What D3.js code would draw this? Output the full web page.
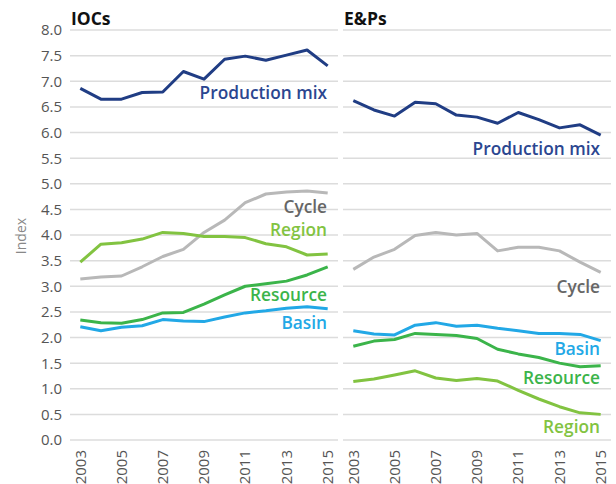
<!DOCTYPE html>
<html>
<head>
<meta charset="utf-8">
<script src="https://cdn.jsdelivr.net/npm/d3@7"></script>
<style>
  body { margin: 0; background: #fff; }
  text { font-family: "Open Sans", sans-serif; }
</style>
</head>
<body>
<svg id="chart" width="616" height="484"></svg>
<script>
// years on the x axis
const years = [2003, 2004, 2005, 2006, 2007, 2008, 2009, 2010, 2011, 2012, 2013, 2014, 2015];
const yTicks = [0, 0.5, 1, 1.5, 2, 2.5, 3, 3.5, 4, 4.5, 5, 5.5, 6, 6.5, 7, 7.5, 8];
const yearTicks = [2003, 2005, 2007, 2009, 2011, 2013, 2015];

// IOCs
const iocProductionMix = [6.86, 6.65, 6.65, 6.78, 6.79, 7.19, 7.04, 7.43, 7.49, 7.41, 7.51, 7.61, 7.3];
const iocCycle = [3.14, 3.18, 3.2, 3.38, 3.58, 3.72, 4.05, 4.29, 4.63, 4.8, 4.84, 4.86, 4.82];
const iocRegion = [3.47, 3.82, 3.85, 3.92, 4.05, 4.03, 3.97, 3.97, 3.95, 3.83, 3.77, 3.61, 3.63];
const iocResource = [2.34, 2.29, 2.28, 2.35, 2.48, 2.49, 2.65, 2.83, 3.0, 3.05, 3.1, 3.22, 3.38];
const iocBasin = [2.21, 2.13, 2.2, 2.23, 2.35, 2.32, 2.31, 2.4, 2.48, 2.52, 2.57, 2.6, 2.56];

// E&Ps
const epProductionMix = [6.62, 6.44, 6.32, 6.59, 6.56, 6.34, 6.3, 6.18, 6.39, 6.25, 6.09, 6.15, 5.95];
const epCycle = [3.33, 3.57, 3.72, 3.99, 4.05, 4.0, 4.03, 3.69, 3.76, 3.76, 3.69, 3.47, 3.27];
const epRegion = [1.14, 1.19, 1.27, 1.35, 1.21, 1.16, 1.2, 1.15, 0.97, 0.8, 0.65, 0.53, 0.5];
const epResource = [1.83, 1.93, 1.96, 2.08, 2.06, 2.04, 1.98, 1.77, 1.68, 1.61, 1.5, 1.43, 1.45];
const epBasin = [2.13, 2.07, 2.05, 2.24, 2.29, 2.22, 2.24, 2.18, 2.13, 2.08, 2.08, 2.06, 1.94];

const colors = {
  "Production mix": "#203d84",
  "Cycle": "#b8b8b8",
  "Region": "#82c341",
  "Resource": "#3bb44a",
  "Basin": "#22a8e6"
};
const labelColors = {
  "Production mix": "#2b4690",
  "Cycle": "#666666",
  "Region": "#82c341",
  "Resource": "#3bb44a",
  "Basin": "#22a8e6"
};

const panels = [
  { title: "IOCs", x0: 70, series: [
      { name: "Cycle", values: iocCycle, lab: 4.55 },
      { name: "Region", values: iocRegion, lab: 4.1 },
      { name: "Resource", values: iocResource, lab: 2.83 },
      { name: "Basin", values: iocBasin, lab: 2.28 },
      { name: "Production mix", values: iocProductionMix, lab: 6.77 }
  ]},
  { title: "E&Ps", x0: 343, series: [
      { name: "Cycle", values: epCycle, lab: 2.99 },
      { name: "Region", values: epRegion, lab: 0.25 },
      { name: "Resource", values: epResource, lab: 1.21 },
      { name: "Basin", values: epBasin, lab: 1.78 },
      { name: "Production mix", values: epProductionMix, lab: 5.69 }
  ]}
];

const svg = d3.select("#chart");
const panelW = 268;
const y = d3.scaleLinear().domain([0, 8]).range([440, 30]);

// y axis tick labels
svg.append("g").selectAll("text").data(yTicks).join("text")
  .attr("x", 62).attr("y", d => y(d)).attr("dy", "0.36em")
  .attr("text-anchor", "end")
  .attr("font-size", 15).attr("fill", "#555")
  .text(d => d.toFixed(1));

svg.append("text")
  .attr("transform", "translate(26,236) rotate(-90)")
  .attr("text-anchor", "middle")
  .attr("font-size", 14).attr("fill", "#888")
  .text("Index");

panels.forEach(p => {
  const x = d3.scalePoint().domain(years).range([p.x0, p.x0 + panelW]).padding(0.5);
  const g = svg.append("g");

  g.selectAll("line.grid").data(yTicks).join("line")
    .attr("class", "grid")
    .attr("x1", p.x0).attr("x2", p.x0 + panelW)
    .attr("y1", d => y(d)).attr("y2", d => y(d))
    .attr("stroke", "#dcdcdc").attr("stroke-width", 1.5);

  g.append("text")
    .attr("x", p.x0 + 1).attr("y", 25)
    .attr("font-size", 17.5).attr("font-weight", "bold").attr("fill", "#111")
    .text(p.title);

  g.selectAll("text.yr").data(yearTicks).join("text")
    .attr("class", "yr")
    .attr("transform", d => `translate(${x(d)},450) rotate(-90)`)
    .attr("dy", "0.35em")
    .attr("text-anchor", "end")
    .attr("font-size", 15).attr("fill", "#555")
    .text(d => d);

  const line = d3.line().x((d, i) => x(years[i])).y(d => y(d));

  p.series.forEach(s => {
    g.append("path")
      .attr("d", line(s.values))
      .attr("fill", "none")
      .attr("stroke", colors[s.name])
      .attr("stroke-width", 3)
      .attr("stroke-linejoin", "round");
    g.append("text")
      .attr("x", p.x0 + 257).attr("y", y(s.lab)).attr("dy", "0.36em")
      .attr("text-anchor", "end")
      .attr("font-size", 17.3).attr("font-weight", 600)
      .attr("fill", labelColors[s.name])
      .text(s.name);
  });
});
</script>
</body>
</html>
